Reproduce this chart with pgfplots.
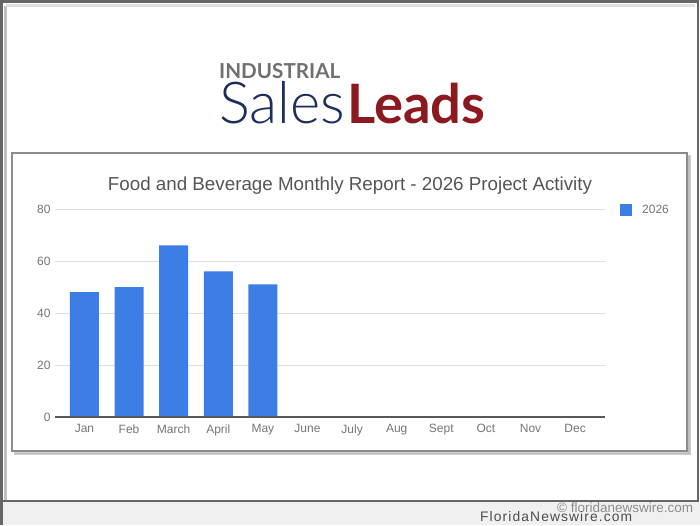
\documentclass[border=0pt]{standalone}
\usepackage{pgfplots}
\pgfplotsset{compat=1.18}
\usepackage{fontspec}
\setmainfont{Liberation Sans}
\newfontfamily\lato{Lato}
\newfontfamily\latolight{Lato}[UprightFont={* Light}]
\definecolor{barblue}{RGB}{60,126,230}
\definecolor{navy}{RGB}{30,46,92}
\definecolor{leadred}{RGB}{140,24,32}
\definecolor{logogray}{RGB}{112,112,112}
\definecolor{tickgray}{RGB}{117,117,117}
\definecolor{titlegray}{RGB}{85,85,85}
\definecolor{gridgray}{RGB}{222,222,222}
\begin{document}
\begin{tikzpicture}
\begin{scope}[x=1pt,y=-1pt]
\useasboundingbox (0,0) rectangle (700,525);
\fill[white] (0,0) rectangle (700,525);
% bottom strip
\fill[black!6] (0,502) rectangle (700,525);
% outer frame
\draw[black!25,line width=3pt] (5.5,5.5) -- (5.5,500) ;
\draw[black!12,line width=3pt] (5.5,5.5) -- (695,5.5);
\draw[black!60,line width=2.5pt] (1.5,525) -- (1.5,1.5) -- (698,1.5) -- (698,501) -- (1.5,501);
% chart box shadow & border
\fill[black!20] (14,155) rectangle (691,455);
\fill[white] (12,153) rectangle (687,451);
\draw[black!45,line width=2pt] (12,153) rectangle (687,451);
\draw[black!25,line width=1.5pt] (689,156) -- (689,453.5) -- (15,453.5);
% logo (one node)
\node[anchor=base west,inner sep=0pt] at (219,123) {\rlap{\raisebox{45pt}{\textcolor{logogray}{\resizebox{121pt}{!}{\lato\bfseries INDUSTRIAL}}}}\textcolor{navy}{\resizebox{126pt}{!}{\latolight Sales}}\hspace{2pt}\textcolor{leadred}{\resizebox{138pt}{!}{\lato\bfseries Leads}}};
% title
\node[anchor=base,inner sep=0pt,text=titlegray] at (350,190) {\resizebox{484pt}{!}{\fontsize{19}{22}\selectfont Food and Beverage Monthly Report - 2026 Project Activity}};
% legend
\fill[barblue] (620,203.5) rectangle (632,215.5);
\node[anchor=base west,inner sep=0pt,text=tickgray] at (642,213.5) {\fontsize{12}{14}\selectfont 2026};
% watermark (one node)
\node[anchor=base west,inner sep=0pt] at (480,521) {\rlap{\hspace{77pt}\raisebox{8.5pt}{\textcolor{black!45}{\resizebox{136pt}{!}{\fontsize{11}{13}\selectfont \textcopyright\ floridanewswire.com}}}}\textcolor{black!70}{\resizebox{152pt}{!}{\fontsize{11}{13}\selectfont\addfontfeature{LetterSpace=8}FloridaNewswire.com}}};
\end{scope}
\begin{axis}[
  at={(55pt,-417pt)}, anchor=south west,
  scale only axis, width=550pt, height=208pt,
  ymin=0, ymax=80, xmin=-0.66, xmax=11.67,
  ytick={0,20,40,60,80},
  xtick={0,...,11},
  xticklabels={Jan,Feb,March,April,May,June,July,Aug,Sept,Oct,Nov,Dec},
  axis line style={draw=none},
  axis x line*=bottom, axis y line*=left,
  major tick length=0pt,
  ymajorgrids, grid style={gridgray,line width=1pt},
  ticklabel style={font=\fontsize{12}{14}\selectfont, text=tickgray},
  /pgf/number format/assume math mode=true,
  xticklabel style={yshift=-4pt},
  yticklabel style={xshift=-1pt},
  ybar, bar width=29pt, bar shift=0pt,
  clip=false,
]
\addplot[fill=barblue, draw=none] coordinates {(0,48) (1,50) (2,66) (3,56) (4,51)};
\draw[black!65, line width=1.6pt] (axis cs:-0.66,0) -- (axis cs:11.67,0);
\end{axis}
\end{tikzpicture}
\end{document}
